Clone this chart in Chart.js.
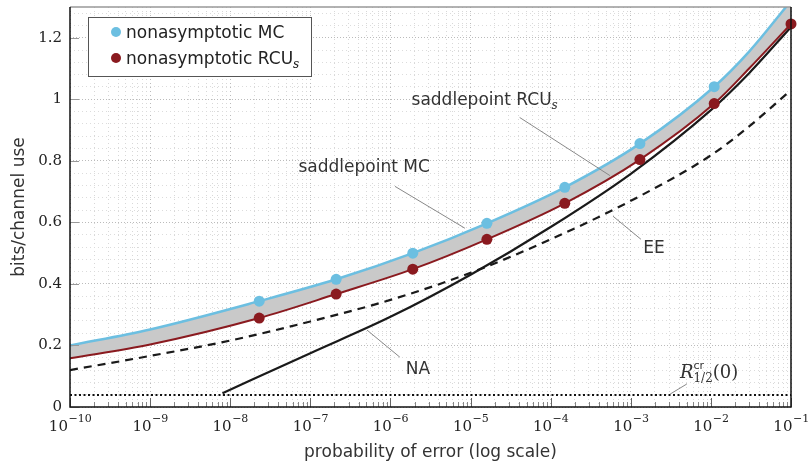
<!DOCTYPE html>
<html>
<head>
<meta charset="utf-8">
<script src="https://cdn.jsdelivr.net/npm/chart.js@4.4.1/dist/chart.umd.min.js"></script>
<style>
  html, body { margin: 0; padding: 0; background: #fff; }
</style>
</head>
<body>
<canvas id="grafico" width="811" height="465"></canvas>
<script>
// curves (saddlepoint approximations)
const curveX = [1e-10, 1e-9, 2.3e-8, 2.1e-7, 1.9e-6, 1.6e-5, 1.5e-4, 1.3e-3, 1.1e-2, 3e-2, 1e-1];
const saddleMC = [0.200, 0.252, 0.344, 0.415, 0.500, 0.597, 0.714, 0.856, 1.041, 1.155, 1.32];
const saddleRCU = [0.158, 0.203, 0.289, 0.367, 0.448, 0.545, 0.662, 0.804, 0.986, 1.100, 1.245];

// nonasymptotic points
const markerMCX = [2.3e-8, 2.1e-7, 1.9e-6, 1.6e-5, 1.5e-4, 1.3e-3, 1.1e-2];
const markerMC = [0.344, 0.415, 0.500, 0.597, 0.714, 0.856, 1.041];
const markerRCUX = [2.3e-8, 2.1e-7, 1.9e-6, 1.6e-5, 1.5e-4, 1.3e-3, 1.1e-2, 1e-1];
const markerRCU = [0.289, 0.367, 0.448, 0.545, 0.662, 0.804, 0.986, 1.245];

// normal approximation, error exponent, critical rate
const naX = [8e-9, 1e-7, 1e-6, 1e-5, 1e-4, 1e-3, 1e-2, 3e-2, 1e-1];
const naY = [0.045, 0.175, 0.293, 0.430, 0.585, 0.758, 0.965, 1.085, 1.235];
const eeX = [1e-10, 1e-9, 1e-8, 1e-7, 1e-6, 1e-5, 1e-4, 1e-3, 1e-2, 3e-2, 1e-1];
const eeY = [0.120, 0.166, 0.216, 0.278, 0.348, 0.436, 0.545, 0.670, 0.818, 0.912, 1.030];
const rcrX = [1e-10, 1e-1];
const rcrY = [0.039, 0.039];

// axes
const xTickExponents = [-10, -9, -8, -7, -6, -5, -4, -3, -2, -1];
const yMajorTicks = [0, 0.2, 0.4, 0.6, 0.8, 1, 1.2];

const azul = '#6cbfe1';
const vermelho = '#8a1a1f';
const sans = '"DejaVu Sans", sans-serif';
const serif = '"DejaVu Serif", serif';

const pts = (xs, ys) => xs.map((x, i) => ({ x: x, y: ys[i] }));
const isDecade = v => v != null && Math.abs(Math.log10(v) - Math.round(Math.log10(v))) < 1e-6;
const isMajorY = v => v != null && yMajorTicks.some(t => Math.abs(t - v) < 1e-6);

// text labels placed in data coordinates
const notas = [
  { parts: [{ t: 'saddlepoint RCU', f: '17px ' + sans }, { t: 's', f: 'italic 12px ' + serif, dy: 4 }],
    x: 1.5e-5, y: 1.0, linha: [[4.1e-5, 0.941], [5.5e-4, 0.752]] },
  { parts: [{ t: 'saddlepoint MC', f: '17px ' + sans }],
    x: 4.7e-7, y: 0.782, linha: [[1.14e-6, 0.717], [8.5e-6, 0.581]] },
  { parts: [{ t: 'EE', f: '17px ' + sans }],
    x: 1.95e-3, y: 0.519, linha: [[6.0e-4, 0.620], [1.34e-3, 0.545]] },
  { parts: [{ t: 'NA', f: '17px ' + sans }],
    x: 2.2e-6, y: 0.1265, linha: [[5.1e-7, 0.25], [1.31e-6, 0.162]] },
  { parts: [{ t: 'R', f: 'italic 18px ' + serif }, { t: 'cr', f: '11px ' + sans, dy: -9, keep: true },
            { t: '1/2', f: '12px ' + serif, dy: 4 }, { t: '(0)', f: '18px ' + serif }],
    x: 9.5e-3, y: 0.1135, linha: [[3.1e-3, 0.042], [5.0e-3, 0.0746]] }
];

function drawRich(ctx, parts, x, y, center) {
  let w = 0, pend = 0;
  parts.forEach(p => {
    ctx.font = p.f;
    p.w = ctx.measureText(p.t).width;
    if (p.keep) { pend = Math.max(pend, p.w); }
    else { w += Math.max(p.w, pend); pend = 0; }
  });
  let cx = center ? x - w / 2 : x;
  let hold = 0;
  ctx.textBaseline = 'alphabetic';
  ctx.textAlign = 'left';
  parts.forEach(p => {
    ctx.font = p.f;
    ctx.fillText(p.t, cx, y + (p.dy || 0));
    if (p.keep) { hold = Math.max(hold, p.w); }
    else { cx += Math.max(p.w, hold); hold = 0; }
  });
}

const extras = {
  id: 'extras',
  afterDraw(chart) {
    const ctx = chart.ctx;
    const a = chart.chartArea;
    const xs = chart.scales.x, ys = chart.scales.y;
    ctx.save();

    // inner tick marks
    ctx.lineWidth = 1;
    xs.ticks.forEach(t => {
      const px = Math.round(xs.getPixelForValue(t.value)) + 0.5;
      const len = isDecade(t.value) ? 9 : 5;
      ctx.strokeStyle = isDecade(t.value) ? '#666' : '#888';
      ctx.beginPath(); ctx.moveTo(px, a.bottom); ctx.lineTo(px, a.bottom - len); ctx.stroke();
    });
    ctx.strokeStyle = '#999';
    yMajorTicks.forEach(v => {
      const py = Math.round(ys.getPixelForValue(v)) + 0.5;
      ctx.beginPath(); ctx.moveTo(a.left, py); ctx.lineTo(a.left + 9, py); ctx.stroke();
    });

    // frame
    ctx.lineWidth = 1.5;
    ctx.strokeStyle = '#999';
    ctx.beginPath(); ctx.moveTo(a.left, a.top); ctx.lineTo(a.right, a.top); ctx.stroke();
    ctx.strokeStyle = '#111';
    ctx.beginPath();
    ctx.moveTo(a.right, a.top); ctx.lineTo(a.right, a.bottom);
    ctx.lineTo(a.left, a.bottom); ctx.lineTo(a.left, a.top);
    ctx.stroke();

    // x tick labels 10^n
    ctx.fillStyle = '#222';
    xTickExponents.forEach(e => {
      const px = xs.getPixelForValue(Math.pow(10, e));
      ctx.font = '15px ' + serif;
      const wb = ctx.measureText('10').width;
      ctx.font = '11px ' + serif;
      const sup = '\u2212' + Math.abs(e);
      const we = ctx.measureText(sup).width;
      const x0 = px - (wb + we) / 2;
      ctx.textAlign = 'left';
      ctx.textBaseline = 'alphabetic';
      ctx.font = '15px ' + serif;
      ctx.fillText('10', x0, a.bottom + 24);
      ctx.font = '11px ' + serif;
      ctx.fillText(sup, x0 + wb + 0.5, a.bottom + 15);
    });

    // annotations
    notas.forEach(n => {
      ctx.strokeStyle = '#888';
      ctx.lineWidth = 1;
      ctx.beginPath();
      ctx.moveTo(xs.getPixelForValue(n.linha[0][0]), ys.getPixelForValue(n.linha[0][1]));
      ctx.lineTo(xs.getPixelForValue(n.linha[1][0]), ys.getPixelForValue(n.linha[1][1]));
      ctx.stroke();
      ctx.fillStyle = '#333';
      drawRich(ctx, n.parts, xs.getPixelForValue(n.x), ys.getPixelForValue(n.y) + 6, true);
    });

    // legend
    const lx = a.left + 18, ly = a.top + 10, lw = 223, lh = 59;
    ctx.fillStyle = '#fff';
    ctx.fillRect(lx, ly, lw, lh);
    ctx.strokeStyle = '#555';
    ctx.lineWidth = 1;
    ctx.strokeRect(lx + 0.5, ly + 0.5, lw, lh);
    const itens = [
      { cor: chart.data.datasets[0].backgroundColor, parts: [{ t: 'nonasymptotic MC', f: '17px ' + sans }] },
      { cor: chart.data.datasets[1].backgroundColor, parts: [{ t: 'nonasymptotic RCU', f: '17px ' + sans }, { t: 's', f: 'italic 12px ' + serif, dy: 4 }] }
    ];
    itens.forEach((it, i) => {
      const cy = ly + 15 + i * 26;
      ctx.fillStyle = it.cor;
      ctx.beginPath(); ctx.arc(lx + 28, cy, 5, 0, Math.PI * 2); ctx.fill();
      ctx.fillStyle = '#222';
      drawRich(ctx, it.parts, lx + 38, cy + 6, false);
    });
    ctx.restore();
  }
};

new Chart(document.getElementById('grafico').getContext('2d'), {
  type: 'line',
  data: {
    datasets: [
      { label: 'nonasymptotic MC', data: pts(markerMCX, markerMC), showLine: false,
        pointRadius: 5.5, backgroundColor: azul, borderColor: azul, pointBorderWidth: 0, clip: false },
      { label: 'nonasymptotic RCUs', data: pts(markerRCUX, markerRCU), showLine: false,
        pointRadius: 5.5, backgroundColor: vermelho, borderColor: vermelho, pointBorderWidth: 0, clip: false },
      { label: 'saddlepoint MC', data: pts(curveX, saddleMC), borderColor: azul, borderWidth: 2.5,
        pointRadius: 0, fill: '+1', backgroundColor: '#c9c9c9', cubicInterpolationMode: 'monotone' },
      { label: 'saddlepoint RCUs', data: pts(curveX, saddleRCU), borderColor: vermelho, borderWidth: 2,
        pointRadius: 0, fill: false, cubicInterpolationMode: 'monotone' },
      { label: 'NA', data: pts(naX, naY), borderColor: '#1a1a1a', borderWidth: 2.2,
        pointRadius: 0, fill: false, cubicInterpolationMode: 'monotone' },
      { label: 'EE', data: pts(eeX, eeY), borderColor: '#1a1a1a', borderWidth: 2.2, borderDash: [8, 6],
        pointRadius: 0, fill: false, cubicInterpolationMode: 'monotone' },
      { label: 'Rcr', data: pts(rcrX, rcrY), borderColor: '#111', borderWidth: 2, borderDash: [2, 2.5],
        pointRadius: 0, fill: false }
    ]
  },
  options: {
    responsive: false,
    animation: false,
    layout: { padding: { top: 7, right: 20, left: 0, bottom: 0 } },
    plugins: {
      legend: { display: false },
      tooltip: { enabled: false },
      filler: { drawTime: 'beforeDatasetsDraw' }
    },
    scales: {
      x: {
        type: 'logarithmic',
        min: 1e-10,
        max: 1e-1,
        afterBuildTicks: s => {
          const t = [];
          xTickExponents.forEach(e => {
            if (e === -1) { t.push({ value: Math.pow(10, e) }); return; }
            for (let m = 1; m <= 9; m++) t.push({ value: m * Math.pow(10, e) });
          });
          s.ticks = t;
        },
        afterFit: s => { s.height = 58; s.paddingLeft = 0; s.paddingRight = 0; },
        ticks: { display: false },
        grid: {
          drawTicks: false,
          lineWidth: 1,
          color: c => isDecade(c.tick && c.tick.value) ? '#bbbbbb' : '#d8d8d8'
        },
        border: { display: false, dash: [1, 3] },
        title: {
          display: true,
          text: 'probability of error (log scale)',
          color: '#333',
          font: { family: 'DejaVu Sans', size: 17 },
          padding: { top: 0, bottom: 2 }
        }
      },
      y: {
        min: 0,
        max: 1.3,
        afterFit: s => { s.width = 70; s.paddingTop = 0; s.paddingBottom = 0; },
        ticks: {
          stepSize: 0.04,
          autoSkip: false,
          includeBounds: false,
          padding: 8,
          color: '#222',
          font: { family: 'DejaVu Serif', size: 15 },
          callback: v => isMajorY(v) ? (Math.abs(v - Math.round(v)) < 1e-6 ? String(Math.round(v)) : v.toFixed(1)) : ''
        },
        grid: {
          drawTicks: false,
          lineWidth: 1,
          color: c => isMajorY(c.tick && c.tick.value) ? '#bbbbbb' : '#dcdcdc'
        },
        border: { display: false, dash: c => isMajorY(c.tick && c.tick.value) ? [1, 2] : [1, 3] },
        title: {
          display: true,
          text: 'bits/channel use',
          color: '#333',
          font: { family: 'DejaVu Sans', size: 17 },
          padding: { top: 9, bottom: 0 }
        }
      }
    }
  },
  plugins: [extras]
});
</script>
</body>
</html>
